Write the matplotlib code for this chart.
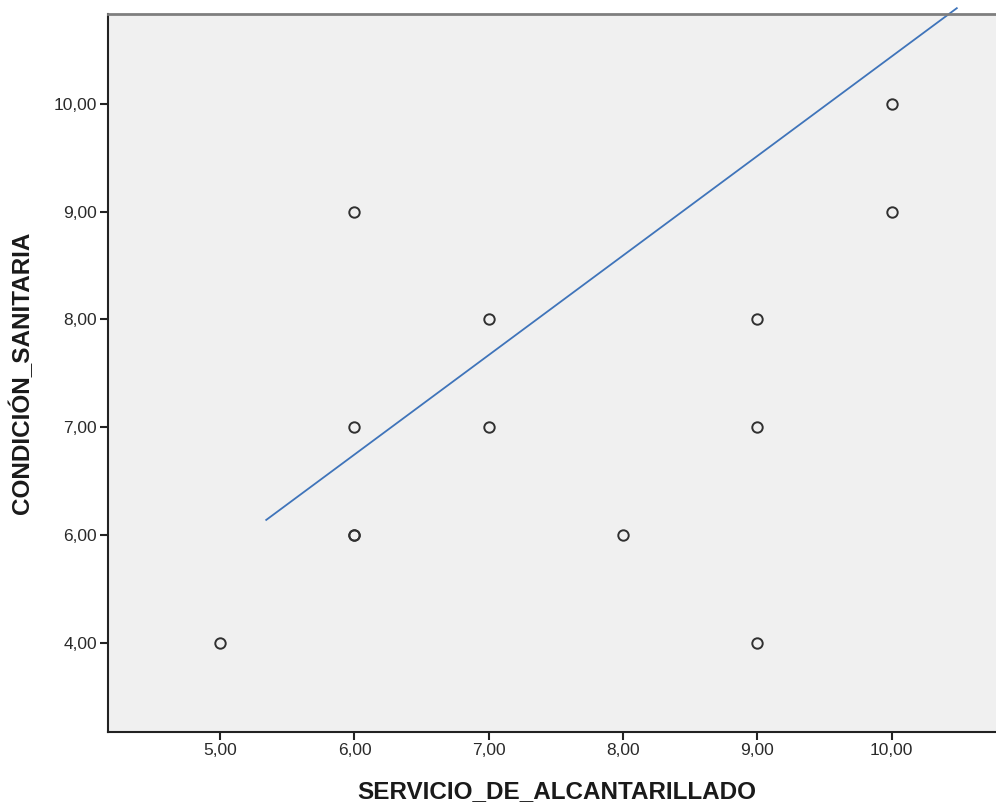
import numpy as np
import matplotlib.pyplot as plt
from matplotlib.ticker import FixedLocator, FuncFormatter

plt.rcParams['font.family'] = ['Liberation Sans', 'DejaVu Sans']

# ============================================================
# DATA
# ============================================================
servicio = [5, 6, 6, 6, 6, 7, 7, 8, 9, 9, 9, 10, 10]
condicion = [4, 9, 7, 6, 6, 8, 7, 6, 8, 7, 4, 10, 9]

# fit line end points
fit_x = [5.343, 10.484]
fit_y = [6.139, 10.89]

y_ticks = [4, 6, 7, 8, 9, 10]
x_ticks = [5, 6, 7, 8, 9, 10]


# the y axis below 6 is compressed (4,00 sits one step under 6,00)
def fwd(y):
    y = np.asarray(y, dtype=float)
    return np.where(y >= 6, y, 6 - (6 - y) / 2)


def inv(v):
    v = np.asarray(v, dtype=float)
    return np.where(v >= 6, v, 6 - (6 - v) * 2)


# ============================================================
# CHART
# ============================================================
fig = plt.figure(figsize=(9.96, 8.08), dpi=100)
ax = fig.add_axes([108 / 996, 76 / 808, 1 - 108 / 996 + 0.01, (732 - 14) / 808])
ax.set_facecolor('#F0F0F0')

ax.set_yscale('function', functions=(fwd, inv))

ax.plot(fit_x, fit_y, color='#3F74BA', linewidth=1.3, zorder=2, clip_on=False)
ax.plot(servicio, condicion, linestyle='none', marker='o', markersize=7.5,
        markerfacecolor='none', markeredgecolor='#303030', markeredgewidth=1.4, zorder=3)

ax.set_xlim(4.165, 10.85)
ax.set_ylim(2.34, 10.836)

ax.xaxis.set_major_locator(FixedLocator(x_ticks))
ax.yaxis.set_major_locator(FixedLocator(y_ticks))
ax.yaxis.set_minor_locator(FixedLocator([]))
fmt = FuncFormatter(lambda v, p: f'{v:.2f}'.replace('.', ','))
ax.xaxis.set_major_formatter(fmt)
ax.yaxis.set_major_formatter(fmt)
ax.tick_params(axis='both', direction='out', length=6, width=1.5, color='#222222',
               labelsize=12.5, labelcolor='#2A2A2A', pad=2)

ax.spines['right'].set_visible(False)
ax.spines['top'].set_color('#7F7F7F')
ax.spines['top'].set_linewidth(2)
ax.spines['left'].set_color('#222222')
ax.spines['bottom'].set_color('#222222')
ax.spines['left'].set_linewidth(1.5)
ax.spines['bottom'].set_linewidth(1.5)

ax.set_xlabel('SERVICIO_DE_ALCANTARILLADO', fontsize=17.5, fontweight='bold', color='#1A1A1A', labelpad=16)
ax.set_ylabel('CONDICIÓN_SANITARIA', fontsize=17.5, fontweight='bold', color='#1A1A1A', labelpad=14)

fig.savefig('out.png', dpi=100)
